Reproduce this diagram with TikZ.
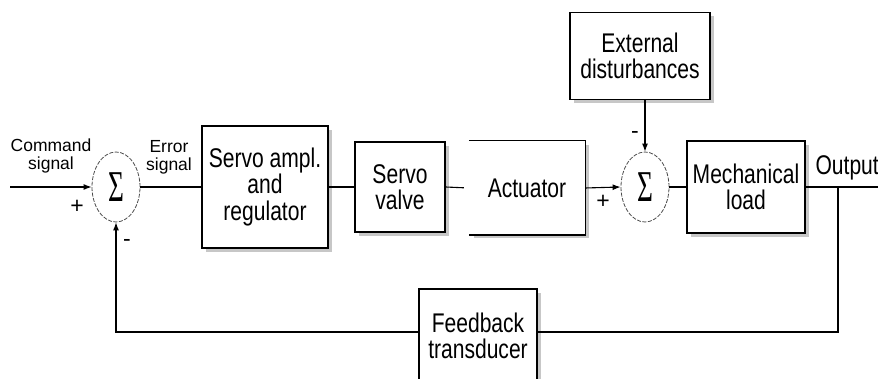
\documentclass[tikz,border=0pt]{standalone}
\usepackage{fontspec}
\setmainfont{Liberation Sans}
\newfontfamily\narrowfont[FakeStretch=0.78]{Liberation Sans}
\newfontfamily\sigmafont[FakeStretch=0.62]{Liberation Serif}
\usetikzlibrary{shapes.geometric,shadows,arrows.meta}

\begin{document}
\begin{tikzpicture}[x=1pt,y=-1pt,line width=1.1pt,
  block/.style={draw,fill=white,inner sep=0pt,align=center,font=\narrowfont\fontsize{27}{26.5}\selectfont,
    drop shadow={shadow xshift=4pt,shadow yshift=-4pt,fill=black!22,opacity=1}},
  sumnode/.style={ellipse,draw=black!70,dash pattern=on 4pt off 1.5pt,line width=0.8pt,
    minimum width=48pt,minimum height=70pt,inner sep=0pt,font=\sigmafont\fontsize{44}{44}\selectfont},
  lbl/.style={font=\fontsize{17.5}{18}\selectfont,align=center,inner sep=0pt},
  sgn/.style={font=\fontsize{23}{23}\selectfont,inner sep=0pt},
  arr/.style={-{Latex[length=8pt,width=6pt]}}]
\useasboundingbox (0,0) rectangle (878,379);
\node[sumnode] (s1) at (116,187) {Σ};
\node[block,minimum width=126pt,minimum height=122pt] (servo) at (265,187) {Servo ampl.\\and\\regulator};
\node[block,minimum width=90pt,minimum height=90pt] (valve) at (400,187) {Servo\\valve};
\node[block,draw=none,minimum width=115pt,minimum height=93pt] (act) at (527,188) {Actuator};
\node[block,minimum width=140pt,minimum height=87pt] (ext) at (640,56) {External\\disturbances};
\node[sumnode] (s2) at (645,187) {Σ};
\node[block,minimum width=118pt,minimum height=92pt] (mech) at (746,187) {Mechanical\\load};
\node[block,minimum width=118pt,minimum height=94pt] (fb) at (478,336) {Feedback\\transducer};
\node[lbl] (cmdtxt) at (51,156) {Command\\signal};
\node[lbl] (errtxt) at (169,157) {Error\\signal};
\node[sgn] (p1) at (77,207) {+};
\node[sgn] (m1) at (127,243) {-};
\node[sgn] (m2) at (635,135) {-};
\node[sgn] (p2) at (603,202) {+};
\node[anchor=west,inner sep=0pt,font=\narrowfont\fontsize{27}{26.5}\selectfont] (outtxt) at (815,168) {Output};
\coordinate (cmd) at (10,187);
\coordinate (out) at (882,187);
\coordinate (tap) at (838,187);
\draw[arr] (cmd) -- (s1.west);
\draw (s1.east) -- (servo.west);
\draw (servo.east) -- (valve.west);
\draw[shorten >=5pt] (valve.east) -- (act.west);
\draw (act.north west) -- (act.north east) -- (act.south east) -- (act.south west);
\draw[arr] (act.east) -- (s2.west);
\draw[arr] (ext.south -| s2.north) -- (s2.north);
\draw (s2.east) -- (mech.west);
\draw (mech.east) -- (out);
\draw (tap) |- ([yshift=4pt]fb.east);
\draw[arr] ([yshift=4pt]fb.west) -| (s1.south);
\end{tikzpicture}
\end{document}
